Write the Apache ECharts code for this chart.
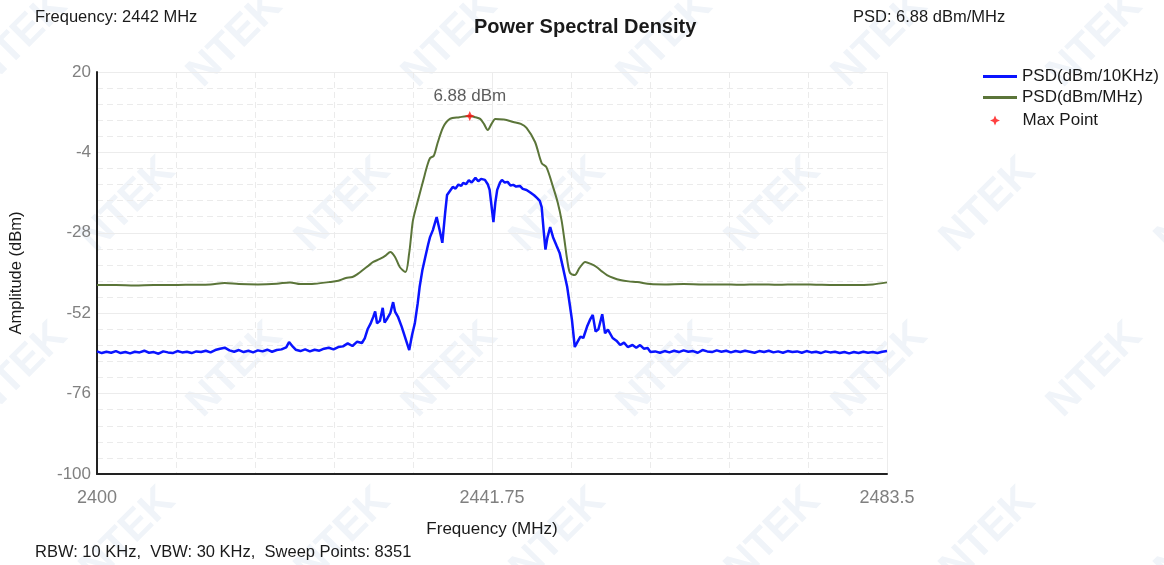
<!DOCTYPE html>
<html>
<head>
<meta charset="utf-8">
<script src="https://cdn.jsdelivr.net/npm/echarts@6/dist/echarts.min.js"></script>
<style>
  html, body { margin: 0; padding: 0; background: #fff; }
  #root { width: 1164px; height: 565px; }
</style>
</head>
<body>
<div id="root"></div>
<script>
// axis ranges (MHz / dBm)
const freqMin = 2400;
const freqMax = 2483.5;
const ampMin = -100;
const ampMax = 20;
const ampStep = 24;

// PSD (dBm/MHz), [freq, dBm]
const psdMHz = [
  [2400,-43.6],[2402,-43.6],[2404,-43.7],[2406,-43.6],[2408,-43.6],[2410,-43.5],[2412,-43.4],
  [2413.5,-43.0],[2415,-43.3],[2417,-43.4],[2419,-43.2],[2420.4,-42.8],[2421.5,-43.3],[2423,-43.2],
  [2424.6,-42.7],[2425.5,-42.3],[2426.3,-41.5],[2427,-41.2],[2427.6,-40.2],[2428.1,-39.1],
  [2428.7,-37.8],[2429.2,-36.7],[2429.9,-35.8],[2430.5,-34.8],[2431.0,-33.7],[2431.5,-35.2],
  [2432.0,-38.2],[2432.6,-39.7],[2433.0,-34],[2433.2,-29],[2433.4,-24.2],[2434.0,-17.5],
  [2434.5,-12.2],[2434.9,-8],[2435.2,-5.7],[2435.6,-5.0],[2436.0,-1.2],[2436.6,3.6],[2437.3,6.0],
  [2438.3,6.5],[2439.4,6.88],[2440.0,6.5],[2440.5,6.0],[2440.9,4.5],[2441.3,2.7],[2441.7,4.5],
  [2442.1,6.0],[2443.0,5.8],[2444.0,5.1],[2444.8,4.5],[2445.4,3.3],[2446.3,-0.9],[2447.0,-7.2],
  [2447.5,-8.4],[2448.2,-14.3],[2448.7,-19],[2449.1,-24.2],[2449.4,-30],[2449.7,-36.1],
  [2450.0,-40],[2450.5,-40.6],[2451.0,-38.5],[2451.6,-36.7],[2452.2,-37.3],[2452.8,-38.2],
  [2453.4,-39.6],[2453.9,-40.6],[2454.6,-41.5],[2455.3,-42.1],[2456.2,-42.5],[2457.1,-42.7],
  [2458.5,-43.3],[2460,-43.4],[2462,-43.3],[2464,-43.4],[2466,-43.4],[2468,-43.5],[2470,-43.4],
  [2472,-43.5],[2474,-43.4],[2476,-43.5],[2478,-43.6],[2480,-43.6],[2482,-43.4],[2483.5,-42.8]
];

// PSD (dBm/10KHz), [freq, dBm]
const psd10k = [
  [2400,-63.4],[2400.5,-63.9],[2401,-63.5],[2401.5,-63.8],[2402,-63.3],[2402.5,-63.9],[2403,-63.6],
  [2403.5,-64.0],[2404,-63.5],[2404.5,-63.7],[2405,-63.2],[2405.5,-63.8],[2406,-63.6],[2406.5,-64.1],
  [2407,-63.4],[2407.5,-63.7],[2408,-63.9],[2408.5,-63.3],[2409,-63.7],[2409.5,-63.5],[2410,-63.9],
  [2410.5,-63.4],[2411,-63.6],[2411.5,-63.2],[2412,-63.7],[2412.5,-63.0],[2413,-62.6],[2413.5,-62.3],
  [2414,-63.1],[2414.5,-63.5],[2415,-63.0],[2415.5,-63.6],[2416,-63.2],[2416.5,-63.7],[2417,-63.1],
  [2417.5,-63.4],[2418,-62.9],[2418.5,-63.5],[2419,-63.0],[2419.5,-62.8],[2420,-62.2],[2420.3,-60.6],
  [2420.7,-62.0],[2421,-62.9],[2421.5,-63.3],[2422,-62.8],[2422.5,-63.4],[2423,-62.9],[2423.5,-63.2],
  [2424,-62.6],[2424.5,-62.3],[2425,-62.8],[2425.5,-62.1],[2426,-61.9],[2426.5,-61.0],[2427,-61.8],
  [2427.5,-60.5],[2428,-60.9],[2428.3,-59.5],[2428.6,-56.8],[2428.9,-55.2],[2429.2,-53.1],
  [2429.4,-51.5],[2429.6,-55.0],[2429.9,-54.3],[2430.2,-50.4],[2430.4,-54.8],[2430.7,-53.5],
  [2431.0,-52.0],[2431.3,-48.7],[2431.5,-51.5],[2431.8,-53.0],[2432.2,-56.0],[2432.6,-59.5],
  [2433.0,-63.0],[2433.3,-58.5],[2433.6,-54.9],[2433.9,-49.0],[2434.1,-44.2],[2434.4,-39.0],
  [2434.7,-35.2],[2435.0,-31.5],[2435.2,-29.3],[2435.5,-27.2],[2435.9,-23.3],[2436.2,-27.0],
  [2436.5,-31.0],[2436.8,-22.0],[2437.0,-16.7],[2437.3,-15.5],[2437.6,-14.3],[2437.9,-14.8],
  [2438.2,-13.6],[2438.5,-14.0],[2438.7,-13.1],[2439.0,-13.5],[2439.3,-12.3],[2439.6,-13.0],
  [2440.0,-11.6],[2440.3,-12.6],[2440.6,-11.9],[2441.0,-12.2],[2441.3,-13.5],[2441.5,-15.2],
  [2441.7,-20.0],[2441.9,-24.8],[2442.1,-19.0],[2442.3,-15.2],[2442.6,-13.0],[2442.8,-12.2],
  [2443.1,-13.0],[2443.4,-12.8],[2443.7,-13.9],[2444.0,-13.7],[2444.3,-14.2],[2444.7,-14.0],
  [2445.0,-14.9],[2445.4,-15.2],[2445.8,-16.0],[2446.2,-16.8],[2446.5,-17.6],[2446.8,-18.5],
  [2447.0,-20.3],[2447.2,-27.0],[2447.4,-33.0],[2447.6,-29.5],[2447.9,-26.3],[2448.2,-29.3],
  [2448.6,-32.0],[2448.9,-34.0],[2449.3,-39.0],[2449.7,-44.2],[2450.0,-50.0],[2450.2,-54.0],
  [2450.5,-62.1],[2450.8,-60.5],[2451.1,-59.0],[2451.4,-59.4],[2451.8,-56.0],[2452.1,-54.0],
  [2452.4,-52.5],[2452.7,-57.5],[2453.0,-56.8],[2453.4,-52.3],[2453.7,-58.0],[2454.0,-56.9],
  [2454.2,-57.0],[2454.5,-59.4],[2454.9,-60.2],[2455.3,-61.5],[2455.7,-60.8],[2456.1,-62.1],
  [2456.6,-61.5],[2457.0,-62.3],[2457.4,-61.5],[2457.8,-62.6],[2458.2,-62.4],[2458.5,-63.6],
  [2459,-63.4],[2459.5,-63.8],[2460,-63.3],[2460.5,-63.7],[2461,-63.2],[2461.5,-63.6],[2462,-63.1],
  [2462.5,-63.5],[2463,-63.3],[2463.5,-63.8],[2464,-63.0],[2464.5,-63.4],[2465,-63.6],[2465.5,-63.1],
  [2466,-63.5],[2466.5,-63.2],[2467,-63.7],[2467.5,-63.3],[2468,-63.6],[2468.5,-63.2],[2469,-63.5],
  [2469.5,-63.8],[2470,-63.3],[2470.5,-63.6],[2471,-63.2],[2471.5,-63.7],[2472,-63.4],[2472.5,-63.8],
  [2473,-63.3],[2473.5,-63.6],[2474,-63.4],[2474.5,-63.8],[2475,-63.3],[2475.5,-63.7],[2476,-63.5],
  [2476.5,-63.9],[2477,-63.4],[2477.5,-63.7],[2478,-63.5],[2478.5,-63.9],[2479,-63.6],[2479.5,-64.0],
  [2480,-63.6],[2480.5,-63.9],[2481,-63.5],[2481.5,-63.8],[2482,-63.6],[2482.5,-63.9],[2483,-63.5],
  [2483.5,-63.3]
];

const maxPoint = [2439.4, 6.88];

// axes are drawn offset from 0 so the ticks start at the range ends
const toXY = (p) => [p[0] - freqMin, p[1] - ampMin];

const font = "'Liberation Sans', Arial, sans-serif";

// faint NTEK watermark
const marks = [];
for (let r = 0; r < 4; r++) {
  for (let c = 0; c < 6; c++) {
    marks.push({
      type: "text",
      x: 20 + c * 215 + (r % 2) * 108,
      y: 40 + r * 165,
      rotation: Math.PI / 4,
      z: -10,
      style: { text: "NTEK", fill: "#f0f4f9", font: "bold 42px " + font, textAlign: "center", textVerticalAlign: "middle" }
    });
  }
}

const chart = echarts.init(document.getElementById("root"));
chart.setOption({
  animation: false,
  backgroundColor: "#fff",
  textStyle: { fontFamily: font },
  graphic: marks.concat([
    { type: "text", left: 35, top: 9, style: { text: "Frequency: 2442 MHz", fill: "#1a1a1a", font: "16.5px " + font } },
    { type: "text", left: 853, top: 9, style: { text: "PSD: 6.88 dBm/MHz", fill: "#1a1a1a", font: "16.5px " + font } },
    { type: "text", left: 474, top: 17, style: { text: "Power Spectral Density", fill: "#1a1a1a", font: "bold 20px " + font } },
    { type: "text", left: 35, top: 544, style: { text: "RBW: 10 KHz,  VBW: 30 KHz,  Sweep Points: 8351", fill: "#1a1a1a", font: "16.5px " + font } }
  ]),
  legend: [
    {
      orient: "vertical",
      left: 978,
      top: 63,
      icon: "rect",
      itemWidth: 34,
      itemHeight: 3,
      itemGap: 4,
      textStyle: { fontSize: 17, color: "#1a1a1a", fontFamily: font },
      data: ["PSD(dBm/10KHz)", "PSD(dBm/MHz)"]
    },
    {
      orient: "vertical",
      left: 985,
      top: 107,
      itemWidth: 45,
      itemHeight: 10,
      textStyle: { fontSize: 17, color: "#1a1a1a", fontFamily: font },
      data: ["Max Point"]
    }
  ],
  grid: { left: 97, top: 72, width: 790, height: 402 },
  xAxis: {
    type: "value",
    min: 0,
    max: freqMax - freqMin,
    interval: (freqMax - freqMin) / 2,
    name: "Frequency (MHz)",
    nameLocation: "middle",
    nameGap: 47,
    nameTextStyle: { color: "#1a1a1a", fontSize: 17 },
    axisLine: { show: true, lineStyle: { color: "#222", width: 2 } },
    axisTick: { show: false },
    axisLabel: {
      color: "#808080", fontSize: 18, margin: 15,
      formatter: (v) => String(+(v + freqMin).toFixed(2))
    },
    splitLine: { show: true, lineStyle: { color: "#ececec", width: 1 } },
    minorTick: { show: false, splitNumber: 5 },
    minorSplitLine: { show: true, lineStyle: { color: "#ebebeb", type: [6, 4], width: 1 } }
  },
  yAxis: {
    type: "value",
    min: 0,
    max: ampMax - ampMin,
    interval: ampStep,
    name: "Amplitude (dBm)",
    nameLocation: "middle",
    nameRotate: 90,
    nameGap: 72,
    nameTextStyle: { color: "#1a1a1a", fontSize: 16.5 },
    axisLine: { show: true, lineStyle: { color: "#222", width: 2 } },
    axisTick: { show: false },
    axisLabel: { color: "#808080", fontSize: 17, margin: 6, formatter: (v) => String(v + ampMin) },
    splitLine: { show: true, lineStyle: { color: "#ececec", width: 1 } },
    minorTick: { show: false, splitNumber: 5 },
    minorSplitLine: { show: true, lineStyle: { color: "#ebebeb", type: [6, 4], width: 1 } }
  },
  series: [
    {
      name: "PSD(dBm/10KHz)",
      type: "line",
      symbol: "none",
      color: "#0a14ff",
      lineStyle: { width: 2.5, color: "#0a14ff" },
      data: psd10k.map(toXY),
      z: 3
    },
    {
      name: "PSD(dBm/MHz)",
      type: "line",
      symbol: "none",
      smooth: 0.3,
      color: "#5b7539",
      lineStyle: { width: 2, color: "#5b7539" },
      data: psdMHz.map(toXY),
      z: 3
    },
    {
      name: "Max Point",
      type: "scatter",
      symbol: "path://M0,-10 L3,-3 L10,0 L3,3 L0,10 L-3,3 L-10,0 L-3,-3 Z",
      symbolSize: 10,
      color: "#ff1010",
      data: [toXY(maxPoint)],
      label: {
        show: true,
        position: "top",
        distance: 6,
        color: "#333",
        fontSize: 17,
        formatter: () => maxPoint[1].toFixed(2) + " dBm"
      },
      z: 5
    }
  ]
});
</script>
</body>
</html>
